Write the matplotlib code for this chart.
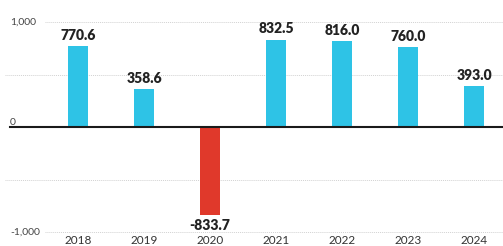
import matplotlib
matplotlib.use("Agg")
import matplotlib.pyplot as plt

years = ["2018", "2019", "2020", "2021", "2022", "2023", "2024"]
values = [770.6, 358.6, -833.7, 832.5, 816.0, 760.0, 393.0]
tick_values = [1000, 0, -1000]
tick_labels = ["1,000", "0", "-1,000"]
grid_values = [1000, 500, -500, -1000]

BLUE = "#2ec3e6"
RED = "#e0392b"
FONT = "Lato"

W, H = 503, 246
fig = plt.figure(figsize=(W / 100, H / 100), dpi=100)
ax = fig.add_axes([0, 0, 1, 1])

# pixel layout: bar i centre at 78 + 66*i, zero at y=127, 105 px per 1000
ax.set_xlim((0 - 78) / 66, (W - 78) / 66)
ax.set_ylim((127 - H) / 0.105, 127 / 0.105)
ax.axis("off")

for g in grid_values:
    x0 = (45 - 78) / 66 if abs(g) == 1000 else (5 - 78) / 66
    ax.plot([x0, (W - 78) / 66], [g, g], color="#d2d2d2", lw=0.7,
            ls=(0, (1, 1)), zorder=1)

colors = [BLUE if v >= 0 else RED for v in values]
xs = list(range(len(years)))
ax.bar(xs, values, width=0.29, color=colors, zorder=2)

ax.plot([(10 - 78) / 66, (W - 78) / 66], [0, 0], color="#1a1a1a", lw=1.5,
        zorder=3)

for x, v in zip(xs, values):
    if v >= 0:
        ax.annotate(f"{v:.1f}", (x, v), xytext=(0, 3), textcoords="offset points",
                    ha="center", va="bottom", fontsize=10, fontweight="heavy",
                    family=FONT, color="#222222")
    else:
        ax.annotate(f"{v:.1f}", (x, v), xytext=(0, -3), textcoords="offset points",
                    ha="center", va="top", fontsize=10, fontweight="heavy",
                    family=FONT, color="#222222")

for tv, tl in zip(tick_values, tick_labels):
    ax.text((10 - 78) / 66, tv, tl, ha="left", va="bottom" if tv == 0 else "center",
            fontsize=7.5, family=FONT, color="#444444")

for x, y in zip(xs, years):
    ax.text(x, (127 - 235) / 0.105, y, ha="center", va="top", fontsize=8.5,
            family=FONT, color="#333333")

fig.savefig("out.png", dpi=100)
